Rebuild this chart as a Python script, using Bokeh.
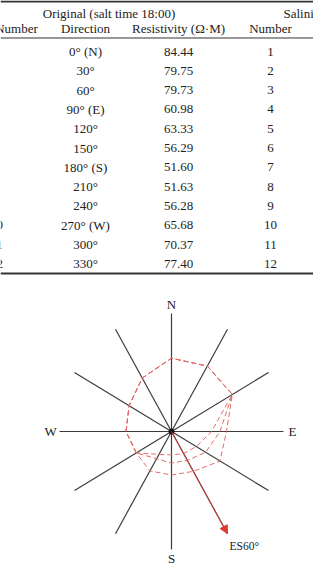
import numpy as np
from bokeh.plotting import figure
from bokeh.layouts import column
from bokeh.models import Range1d, Span, Arrow, NormalHead
from bokeh.core.properties import value
from bokeh.embed import file_html
from bokeh.resources import INLINE

# ---------------- table data ----------------
numbers = [str(i) for i in range(1, 13)]
directions = ["0° (N)", "30°", "60°", "90° (E)", "120°", "150°",
              "180° (S)", "210°", "240°", "270° (W)", "300°", "330°"]
resistivity = ["84.44", "79.75", "79.73", "60.98", "63.33", "56.29",
               "51.60", "51.63", "56.28", "65.68", "70.37", "77.40"]
group_headers = ["Original (salt time 18:00)", "Salinization"]
column_headers = ["Number", "Direction", "Resistivity (Ω·M)", "Number"]

# ---------------- polar data ----------------
bearings = [0, 30, 60, 90, 120, 150, 180, 210, 240, 270, 300, 330]
r_original = [62.1, 64.0, 62.7, 49.1, 50.0, 39.0, 36.9, 38.6, 36.3, 40.6, 43.7, 52.3]
r_middle = [62.1, 64.0, 62.7, 43.3, 35.2, 28.3, 26.7, 26.6, 36.3, 40.6, 43.7, 52.3]
r_inner = [62.1, 64.0, 62.7, 35.7, 25.6, 21.5, 19.9, 22.3, 36.3, 40.6, 43.7, 52.3]
compass_labels = ["N", "E", "S", "W"]
compass_bearings = [0, 90, 180, 270]
salt_bearing = 150
salt_label = "ES60°"
spoke_length = 100
label_radius = 108

FONT = value("Liberation Serif")
TXT = "#222222"
W = 313

# ================= table figure =================
row_px = 19.3
first_row_px = 51.0
tH = 280
t = figure(width=W, height=tH, output_backend="svg", toolbar_location=None,
           x_range=Range1d(0, W),
           y_range=Range1d((tH - first_row_px) / row_px, -first_row_px / row_px),
           min_border=0, outline_line_color=None)
t.axis.visible = False
t.grid.visible = False

rows = list(range(len(numbers)))
h1, h2 = -1.97, -1.19
col_x = [-4, 85, 178, 270]
hdr_x = [16, 85, 178, 270]

t.text(x=[108.5], y=[h1], text=[group_headers[0]], text_font=FONT, text_font_size="13px",
       text_color=TXT, text_align="center", text_baseline="middle")
t.text(x=[283], y=[h1], text=[group_headers[1]], text_font=FONT, text_font_size="13px",
       text_color=TXT, text_align="left", text_baseline="middle")
t.text(x=hdr_x, y=[h2] * 4, text=column_headers, text_font=FONT, text_font_size="13px",
       text_color=TXT, text_align="center", text_baseline="middle")
for cx, vals in zip(col_x, [numbers, directions, resistivity, numbers]):
    t.text(x=[cx] * len(vals), y=rows, text=vals, text_font=FONT, text_font_size="13px",
           text_color=TXT, text_align="center", text_baseline="middle")

t.add_layout(Span(location=-2.59, dimension="width", line_color="#333333", line_width=2))
t.add_layout(Span(location=-0.70, dimension="width", line_color="#333333", line_width=1))
t.add_layout(Span(location=11.50, dimension="width", line_color="#333333", line_width=2))

# ================= polar figure =================
pH = 284
sx, sy = 1.12, 1.18      # px per unit
cx_px, cy_px = 171, 151  # centre inside this figure
p = figure(width=W, height=pH, output_backend="svg", toolbar_location=None,
           x_range=Range1d(-cx_px / sx, (W - cx_px) / sx),
           y_range=Range1d(-(pH - cy_px) / sy, cy_px / sy),
           min_border=0, outline_line_color=None)
p.axis.visible = False
p.grid.visible = False

th = np.radians(bearings)
p.segment(x0=[0] * len(bearings), y0=[0] * len(bearings),
          x1=list(spoke_length * np.sin(th)), y1=list(spoke_length * np.cos(th)),
          line_color="#3c3c3c", line_width=1.2)

RED = "#e66a6a"
start = bearings.index(240)  # start where the series share their path so dashes stay in phase
order = list(range(start, len(bearings))) + list(range(0, start + 1))
for r in [r_original, r_middle, r_inner]:
    rr = np.array([r[i] for i in order])
    tt = np.radians([bearings[i] for i in order])
    p.line(x=list(rr * np.sin(tt)), y=list(rr * np.cos(tt)), line_color=RED,
           line_width=1.0, line_dash="5 3")

sb = np.radians(salt_bearing)
tipx, tipy = spoke_length * np.sin(sb), spoke_length * np.cos(sb)
p.add_layout(Arrow(end=NormalHead(size=8, fill_color="#dc3b2e", line_color="#dc3b2e", line_width=1),
                   x_start=0, y_start=0, x_end=tipx, y_end=tipy,
                   line_color="#dc3b2e", line_width=1.0))
p.text(x=[tipx], y=[tipy], text=[salt_label], text_font=FONT, text_font_size="11.5px",
       text_color=TXT, text_align="left", text_baseline="middle", x_offset=2, y_offset=12)

p.scatter(x=[0], y=[0], size=5, color="#111111")

cb = np.radians(compass_bearings)
p.text(x=list(label_radius * np.sin(cb)), y=list(label_radius * np.cos(cb)), text=compass_labels,
       text_font=FONT, text_font_size="13px", text_color=TXT,
       text_align="center", text_baseline="middle")

layout = column(t, p, spacing=0)
open("out.html", "w").write(file_html(layout, INLINE))
